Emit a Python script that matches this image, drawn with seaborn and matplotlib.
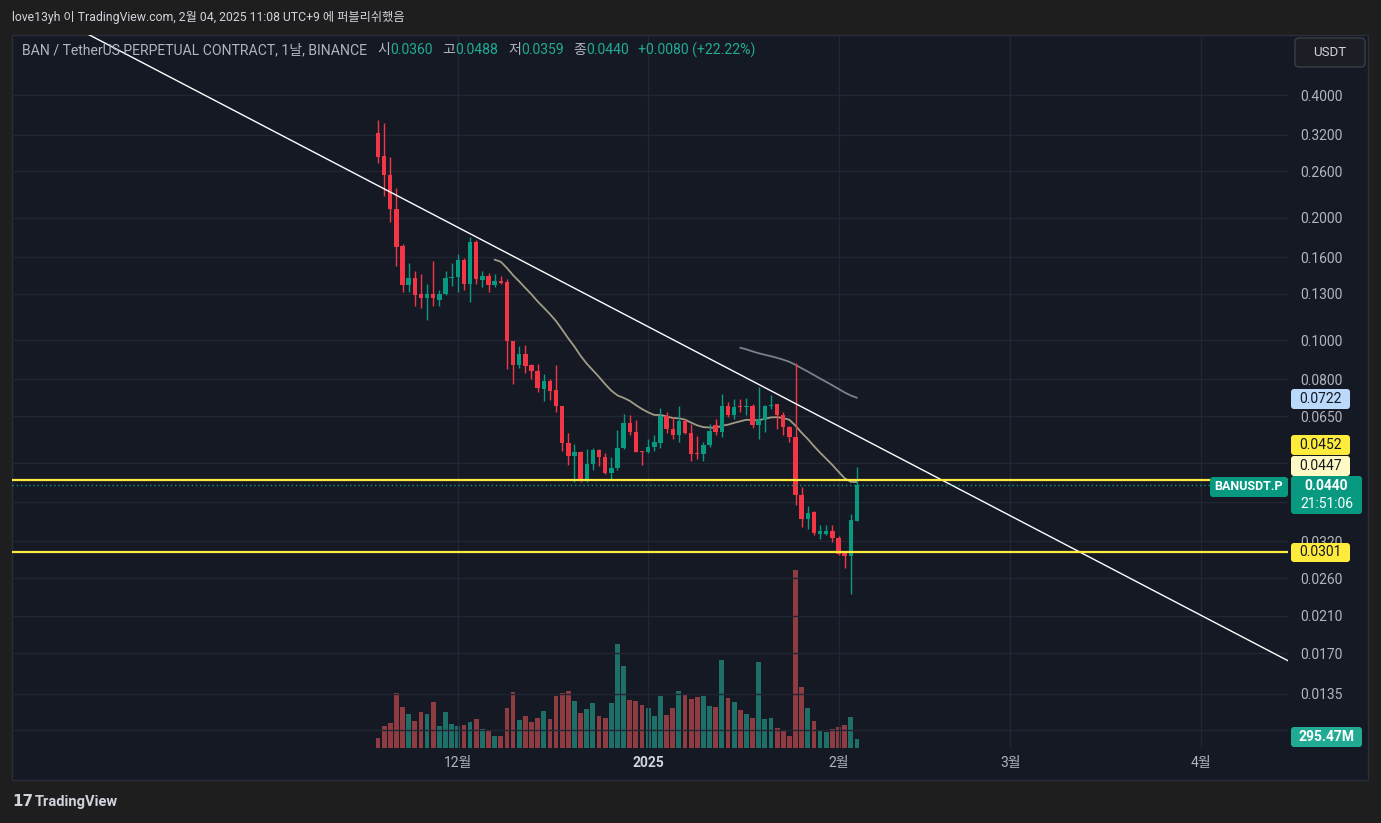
import numpy as np
import pandas as pd
import seaborn as sns
import matplotlib.pyplot as plt
import matplotlib.transforms as mtransforms
from matplotlib.patches import Rectangle, FancyBboxPatch
from matplotlib.ticker import NullLocator

W, H = 1381, 823

# 일봉 데이터 (BAN/USDT 무기한, 2024-11-18 ~ 2025-02-04)
first_day = '2024-11-18'
opens = [0.322, 0.283, 0.254, 0.210, 0.170, 0.1365, 0.142, 0.130, 0.127, 0.130,
         0.1254, 0.130, 0.142, 0.143, 0.157, 0.137, 0.1746, 0.1405, 0.144, 0.1365,
         0.140, 0.139, 0.0994, 0.0868, 0.0922, 0.0866, 0.0840, 0.0760, 0.0792, 0.0752,
         0.0688, 0.0559, 0.0518, 0.0531, 0.0450, 0.0497, 0.0538, 0.0515, 0.0471, 0.0485,
         0.0542, 0.0625, 0.0594, 0.0534, 0.0530, 0.0546, 0.0560, 0.0651, 0.0603, 0.0585,
         0.0633, 0.0592, 0.0528, 0.0524, 0.0553, 0.0620, 0.0594, 0.0687, 0.0655, 0.0688,
         0.0685, 0.0690, 0.0619, 0.0635, 0.0689, 0.0695, 0.0655, 0.0611, 0.0578, 0.0417,
         0.0363, 0.0378, 0.0334, 0.0334, 0.0340, 0.0326, 0.0301, 0.0295, 0.0360]
highs = [0.347, 0.341, 0.281, 0.236, 0.172, 0.155, 0.148, 0.145, 0.137, 0.156,
         0.133, 0.148, 0.155, 0.163, 0.159, 0.179, 0.176, 0.148, 0.146, 0.145,
         0.144, 0.141, 0.0997, 0.0966, 0.0974, 0.0875, 0.0875, 0.0823, 0.0800, 0.0870,
         0.0690, 0.0590, 0.0555, 0.0535, 0.0540, 0.0542, 0.0540, 0.0528, 0.0515, 0.0600,
         0.0658, 0.0655, 0.0637, 0.0535, 0.0572, 0.0583, 0.0682, 0.0666, 0.0646, 0.0689,
         0.0640, 0.0622, 0.0582, 0.0563, 0.0622, 0.0640, 0.0735, 0.0705, 0.0718, 0.0718,
         0.0721, 0.0695, 0.0768, 0.0693, 0.0731, 0.0697, 0.0665, 0.0616, 0.0878, 0.0435,
         0.0390, 0.0380, 0.0352, 0.0352, 0.0352, 0.0330, 0.0302, 0.0374, 0.0488]
lows = [0.272, 0.226, 0.195, 0.152, 0.131, 0.131, 0.121, 0.120, 0.112, 0.121,
        0.121, 0.129, 0.136, 0.131, 0.1325, 0.124, 0.137, 0.135, 0.131, 0.135,
        0.137, 0.0847, 0.0778, 0.0855, 0.0831, 0.0800, 0.0744, 0.0707, 0.0713, 0.0665,
        0.0533, 0.0492, 0.0448, 0.0448, 0.0448, 0.0479, 0.0490, 0.0469, 0.0456, 0.0480,
        0.0540, 0.0583, 0.0530, 0.0492, 0.0528, 0.0535, 0.0543, 0.0592, 0.0572, 0.0562,
        0.0588, 0.0503, 0.0510, 0.0505, 0.0546, 0.0585, 0.0578, 0.0647, 0.0641, 0.0664,
        0.0655, 0.0608, 0.0572, 0.0595, 0.0676, 0.0603, 0.0583, 0.0562, 0.0394, 0.0348,
        0.0344, 0.0332, 0.0325, 0.0332, 0.0319, 0.0297, 0.0275, 0.0237, 0.0359]
closes = [0.282, 0.254, 0.210, 0.169, 0.1365, 0.1423, 0.129, 0.127, 0.130, 0.127,
          0.130, 0.142, 0.143, 0.157, 0.137, 0.1746, 0.141, 0.144, 0.1365, 0.140,
          0.138, 0.0994, 0.0868, 0.0922, 0.0864, 0.0839, 0.0763, 0.0792, 0.0750, 0.0688,
          0.0559, 0.0518, 0.0531, 0.0450, 0.0497, 0.0538, 0.0515, 0.0471, 0.0485, 0.0542,
          0.0625, 0.0594, 0.0532, 0.0531, 0.0546, 0.0562, 0.0651, 0.0603, 0.0585, 0.0633,
          0.0592, 0.0525, 0.0524, 0.0553, 0.0599, 0.0594, 0.0687, 0.0655, 0.0686, 0.0685,
          0.0690, 0.0619, 0.0635, 0.0689, 0.0694, 0.0655, 0.0611, 0.0578, 0.0415, 0.0363,
          0.0376, 0.0336, 0.0339, 0.0340, 0.0326, 0.0298, 0.0295, 0.0361, 0.0440]
# 거래량 (백만 USDT)
volume_m = [330, 720, 820, 1800, 1340, 1115, 885, 1180, 1115, 1510,
            720, 1180, 790, 720, 755, 850, 950, 625, 560, 395,
            395, 1310, 1840, 920, 1050, 850, 985, 1215, 950, 1705,
            1800, 1870, 1540, 1150, 1280, 1475, 1050, 985, 1475, 3410,
            2690, 1575, 1540, 1410, 1310, 1050, 1705, 1080, 1310, 1870,
            1770, 1610, 1670, 1705, 1380, 1345, 2885, 1640, 1510, 1245,
            1115, 985, 2820, 950, 985, 655, 560, 395, 5840, 2000,
            1310, 885, 560, 525, 625, 690, 755, 1015, 295.47]

grid_prices = [0.4, 0.32, 0.26, 0.2, 0.16, 0.13, 0.1, 0.08, 0.065, 0.05, 0.04,
               0.032, 0.026, 0.021, 0.017, 0.0135, 0.011]
grid_labels = ['0.4000', '0.3200', '0.2600', '0.2000', '0.1600', '0.1300', '0.1000',
               '0.0800', '0.0650', '', '', '0.0320', '0.0260', '0.0210', '0.0170',
               '0.0135', '']
month_ticks = ['2024-12-01', '2025-01-01', '2025-02-01', '2025-03-01', '2025-04-01']
month_labels = ['12월', '2025', '2월', '3월', '4월']

trend_dates = ['2024-09-12 00:00', '2025-04-15 12:00']
trend_prices = [0.808, 0.0162]
support_levels = [0.0452, 0.0301]
last_price = 0.0440
ma20_label = 0.0447
ma60_label = 0.0722

df = pd.DataFrame({'date': pd.date_range(first_day, periods=len(opens), freq='D'),
                   'open': opens, 'high': highs, 'low': lows, 'close': closes,
                   'volume': volume_m})


def ema(s, n):
    seeded = s.copy()
    seeded.iloc[:n - 1] = np.nan
    seeded.iloc[n - 1] = s.iloc[:n].mean()
    return seeded.ewm(span=n, adjust=False, ignore_na=True).mean()


df['ema20'] = ema(df['close'], 20)
df['ema60'] = ema(df['close'], 60)
up = df['close'] >= df['open']

# 색상
outer_bg = '#1e1e1e'
pane_bg = '#151924'
grid_col = '#222633'
text_col = '#b2b5be'
green, red = '#089981', '#f23645'
teal_txt = '#22ab94'
yellow = '#ffeb3b'

sns.set_theme(style='dark')
plt.rcParams['font.family'] = ['Roboto', 'Noto Sans CJK KR', 'DejaVu Sans']

fig = plt.figure(figsize=(W / 100, H / 100), dpi=100, facecolor=outer_bg)
ident = mtransforms.IdentityTransform()
renderer = fig.canvas.get_renderer()


def px(x, y):
    return x, H - y


# 차트 프레임
fig.add_artist(Rectangle(px(12, 780), 1356, 745, transform=ident, fc=pane_bg,
                         ec='#2a2e39', lw=1, zorder=0))

rect = [12 / W, 1 - 748 / H, 1276 / W, 713 / H]
axv = fig.add_axes(rect)
ax = fig.add_axes(rect, sharex=axv)
axv.set_axis_off()
ax.patch.set_visible(False)

# 거래량
vol_colors = np.where(up, '#1f6f69', '#8e3b42')
axv.bar(df['date'], df['volume'], width=0.78, color=vol_colors, linewidth=0)
axv.set_ylim(0, df['volume'].max() * 4.0)

# 캔들
candle_colors = np.where(up, green, red)
ax.vlines(df['date'], df['low'], df['high'], colors=candle_colors, lw=1, zorder=3)
body_lo = df[['open', 'close']].min(axis=1)
body_hi = df[['open', 'close']].max(axis=1)
body_h = np.maximum(body_hi - body_lo, body_lo * 0.006)
ax.bar(df['date'], body_h, bottom=body_lo, width=0.72, color=candle_colors,
       linewidth=0, zorder=4)

# 이동평균
sns.lineplot(data=df, x='date', y='ema20', ax=ax, color='#a09c86', lw=1.3, zorder=2)
sns.lineplot(data=df, x='date', y='ema60', ax=ax, color='#7d808c', lw=1.3, zorder=2)

# 추세선, 지지선
ax.plot(pd.to_datetime(trend_dates), trend_prices, color='white', lw=1.0, zorder=5)
for lvl in support_levels:
    ax.axhline(lvl, color=yellow, lw=1.6, zorder=5)
ax.axhline(last_price, xmax=(1210 - 12) / 1276, color=green, lw=1,
           ls=(0, (1, 2)), zorder=5)

ax.set_yscale('log')
ax.set_ylim(0.00994, 0.562)
x_left = pd.Timestamp('2024-12-01') - pd.Timedelta(days=72.6)
x_right = pd.Timestamp('2024-12-01') + pd.Timedelta(days=135.2)
ax.set_xlim(x_left, x_right)

ax.set_yticks(grid_prices)
ax.set_yticklabels(grid_labels)
ax.yaxis.set_minor_locator(NullLocator())
ax.yaxis.tick_right()
ax.set_xticks(pd.to_datetime(month_ticks))
ax.set_xticklabels(month_labels)
ax.xaxis.set_minor_locator(NullLocator())
ax.tick_params(axis='y', length=0, pad=8.6, labelsize=10, labelcolor=text_col)
ax.tick_params(axis='x', length=0, pad=6, labelsize=10, labelcolor=text_col)
ax.get_xticklabels()[1].set_fontweight('bold')
ax.get_xticklabels()[1].set_color('#d1d4dc')
ax.grid(True, color=grid_col, lw=1)
ax.set_axisbelow(True)
ax.set_xlabel('')
ax.set_ylabel('')
for s in ax.spines.values():
    s.set_visible(False)


# 오른쪽 가격 라벨
def label_box(x0, x1, y0, y1, fc, lines, tc, bold=False, fs=10):
    fig.add_artist(FancyBboxPatch(px(x0, y1), x1 - x0, y1 - y0, transform=ident,
                                  boxstyle='round,pad=0,rounding_size=3', fc=fc,
                                  ec='none', zorder=10))
    n = len(lines)
    for i, t in enumerate(lines):
        yc = y0 + (y1 - y0) * (i + 0.5) / n
        fig.text(*px((x0 + x1) / 2, yc), t, transform=ident, ha='center',
                 va='center', color=tc, fontsize=fs,
                 fontweight='bold' if (bold and i == 0) else 'normal', zorder=11)


label_box(1291, 1350, 389, 409, '#bbd9fb', [f'{ma60_label:.4f}'], '#131722')
label_box(1291, 1350, 435, 455, yellow, [f'{support_levels[0]:.4f}'], '#131722')
label_box(1291, 1350, 456, 476, '#fff9c4', [f'{ma20_label:.4f}'], '#131722')
label_box(1291, 1362, 476, 514, green, [f'{last_price:.4f}', '21:51:06'], 'white', bold=True)
label_box(1210, 1288, 477, 497, green, ['BANUSDT.P'], 'white', bold=True, fs=9)
label_box(1291, 1350, 543, 562, yellow, [f'{support_levels[1]:.4f}'], '#131722')
label_box(1291, 1362, 727, 747, '#22ab94', ['295.47M'], 'white', bold=True)

# USDT 버튼
fig.add_artist(FancyBboxPatch(px(1295, 67), 70, 29, transform=ident,
                              boxstyle='round,pad=0,rounding_size=4', fc='#1b1e25',
                              ec='#3a3d46', lw=1, zorder=10))
fig.text(*px(1330, 53), 'USDT', transform=ident, ha='center', va='center',
         color='#d1d4dc', fontsize=9.5, zorder=11)


def fit_text(x, y, s, width, color, fs=10, **kw):
    t = fig.text(*px(x, y), s, transform=ident, va='center', color=color, fontsize=fs, **kw)
    w = t.get_window_extent(renderer).width
    t.set_fontsize(fs * width / w)
    return t


# 헤더
fig.text(*px(12, 17), 'love13yh 이 TradingView.com, 2월 04, 2025 11:08 UTC+9 에 퍼블리쉬했음',
         transform=ident, va='center', color='#d1d4dc', fontsize=8.8)

leg = fit_text(22, 50, 'BAN / TetherUS PERPETUAL CONTRACT, 1날, BINANCE', 345, text_col)
leg_fs = leg.get_fontsize()
pieces = [('시', text_col, 0), ('0.0360', teal_txt, 10),
          ('고', text_col, 0), ('0.0488', teal_txt, 10),
          ('저', text_col, 0), ('0.0359', teal_txt, 10),
          ('종', text_col, 0), ('0.0440', teal_txt, 9),
          ('+0.0080 (+22.22%)', teal_txt, 0)]
x = 377
for txt, col, gap in pieces:
    t = fig.text(*px(x, 50), txt, transform=ident, va='center', color=col, fontsize=leg_fs)
    x += t.get_window_extent(renderer).width + gap

# 하단 로고
fig.text(*px(12, 802), '17', transform=ident, va='center', color='#d1d4dc',
         fontsize=11, fontweight='bold', family='DejaVu Sans')
fig.text(*px(35, 802), 'TradingView', transform=ident, va='center', color='#d1d4dc',
         fontsize=10.5, fontweight='bold')

fig.savefig('out.png', dpi=100, facecolor=outer_bg)
